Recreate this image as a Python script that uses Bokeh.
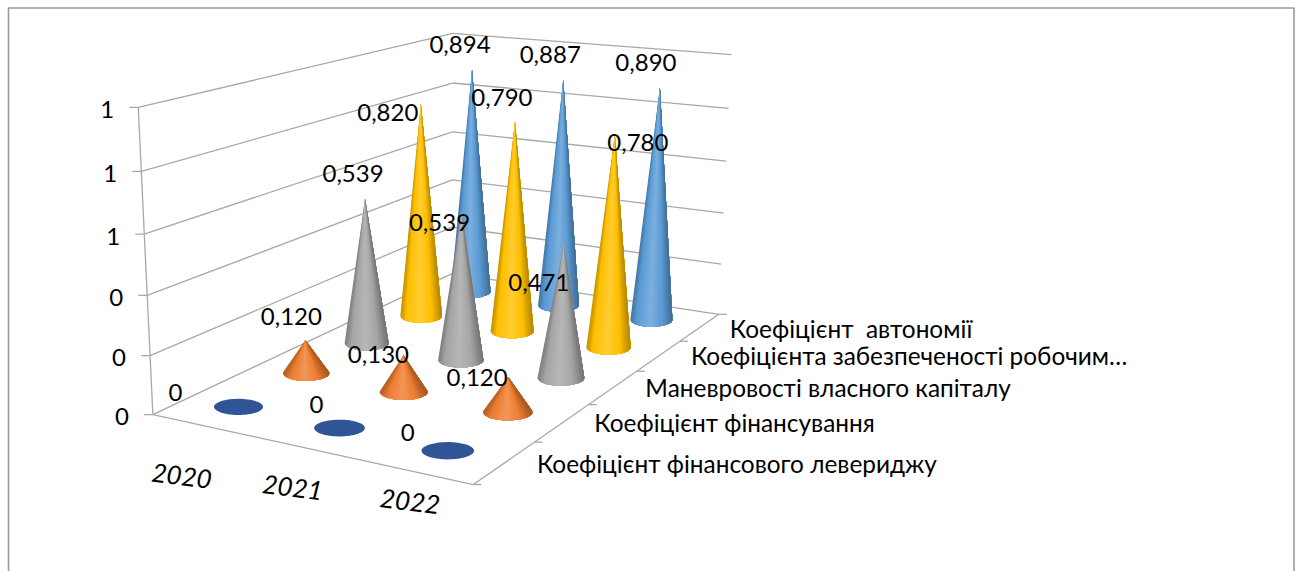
import numpy as np
from bokeh.core.properties import value
from bokeh.embed import file_html
from bokeh.models import ColumnDataSource, Range1d
from bokeh.plotting import figure
from bokeh.resources import INLINE

# ---- chart data -------------------------------------------------------
years = ["2020", "2021", "2022"]
series_names = [
    "Коефіцієнт фінансового левериджу",
    "Коефіцієнт фінансування",
    "Маневровості власного капіталу",
    "Коефіцієнта забезпеченості робочим…",
    "Коефіцієнт\u00a0 автономії",
]
leverage = [0.0, 0.0, 0.0]
financing = [0.120, 0.130, 0.120]
maneuverability = [0.539, 0.539, 0.471]
working_capital = [0.820, 0.790, 0.780]
autonomy = [0.894, 0.887, 0.890]
value_ticks = [0.0, 0.2, 0.4, 0.6, 0.8, 1.0]

# ---- styling and layout -----------------------------------------------
series_rgb = [(47, 85, 151), (237, 125, 49), (165, 165, 165), (255, 192, 0), (91, 155, 213)]
GRID = "#A8A8A8"
FRAME = "#999999"
FONT = "Lato"
W, H = 1301, 571

# pixel offsets of the value labels from each cone tip (rows follow the series)
label_dx = [[-63, -23, -40], [-14, -25, -31], [-12, -22, -25], [-33, -13, 23], [-12, -13, -14]]
label_dy = [[-14, -24, -18], [-24, -1, 0], [-25, 11, 38], [8, -24, 8], [-26, -25, -25]]
# pixel offsets of the year labels from the front edge
year_dx = [-20, -12, -5]
year_dy = [51, 40, 30]
# pixel offsets of the series names from the floor edge
name_dx = [32, 32, 32, 32, 30]
name_dy = [1, 0, 0, 0, 1]

# Perspective camera: box corners (year, series, value) and where they land on screen
box_world = [(0, 0, 0), (3, 0, 0), (3, 5, 0), (0, 5, 0), (0, 0, 1), (0, 5, 1), (3, 5, 1)]
box_screen = [(152, 414), (473, 484), (718, 314), (452, 273), (138, 107), (452, 33), (731, 54)]

# Brightness profile across a cone: position (-1 left edge .. 1 right edge), then factor;
# factors above 1 blend towards white
shade_pos = [-1.0, -0.72, -0.08, 0.5, 1.0]
shade_gain = [0.76, 1.0, 1.2, 1.0, 0.70]


def solve_camera(world, screen):
    rows = []
    for (x, y, z), (u, v) in zip(world, screen):
        rows.append([x, y, z, 1, 0, 0, 0, 0, -u * x, -u * y, -u * z, -u])
        rows.append([0, 0, 0, 0, x, y, z, 1, -v * x, -v * y, -v * z, -v])
    m = np.linalg.svd(np.array(rows, float))[2][-1].reshape(3, 4)
    return m if m[2, 3] > 0 else -m


CAM = solve_camera(box_world, box_screen)


def depth(x, y, z):
    return CAM[2] @ np.array([x, y, z, 1.0])


def project(x, y, z):
    h = CAM @ np.array([x, y, z, 1.0])
    return h[0] / h[2], h[1] / h[2]


def shade(rgb, s):
    """Colour of a cone facet at horizontal position s."""
    g = float(np.interp(s, shade_pos, shade_gain))
    if g <= 1:
        c = [k * g for k in rgb]
    else:
        c = [k + (255 - k) * (g - 1) for k in rgb]
    return "#%02x%02x%02x" % tuple(int(min(255, max(0, round(k)))) for k in c)


def cone_layers(cx, cy, tx, ty, a, b, rgb, n=32):
    """Overlapping shaded layers of a cone's visible side; each layer covers the
    arc from its facet to the far edge, so no background shows between facets."""
    ux, uy = (tx - cx) / a, (ty - cy) / b
    dist = np.hypot(ux, uy)
    if dist <= 1.001:
        phi = np.linspace(0, 2 * np.pi, 60)
        return [list(cx + a * np.cos(phi))], [list(cy + b * np.sin(phi))], ["#%02x%02x%02x" % rgb]
    alpha, spread = np.arctan2(uy, ux), np.arccos(1 / dist)
    phi = np.linspace(alpha + spread, alpha - spread + 2 * np.pi, 3 * n + 1)
    px, py = cx + a * np.cos(phi), cy + b * np.sin(phi)
    if px[0] > px[-1]:
        px, py = px[::-1], py[::-1]
    # facet borders evenly spaced in screen x
    edges = np.linspace(px.min(), px.max(), n + 1)[:-1]
    xs, ys, colors = [], [], []
    for e0, e1 in zip(edges, list(edges[1:]) + [px.max()]):
        keep = px >= e0
        xs.append([tx] + list(px[keep]))
        ys.append([ty] + list(py[keep]))
        colors.append(shade(rgb, float(((e0 + e1) / 2 - cx) / a)))
    return xs, ys, colors


p = figure(width=W, height=H, x_range=Range1d(0, W), y_range=Range1d(H, 0),
           output_backend="svg", toolbar_location=None, min_border=0,
           outline_line_color=None, background_fill_color="white", border_fill_color="white")
p.axis.visible = False
p.grid.visible = False

# Outer chart frame, running off the bottom of the page
p.line([8, 8, 1293.5, 1293.5], [H, 7.5, 7.5, H], line_color=FRAME, line_width=1.6)

# Walls and floor of the box
seg_x0, seg_y0, seg_x1, seg_y1 = [], [], [], []


def add_segment(a, b):
    seg_x0.append(a[0]); seg_y0.append(a[1]); seg_x1.append(b[0]); seg_y1.append(b[1])


for z in value_ticks:
    add_segment(project(0, 0, z), project(0, 5, z))
    add_segment(project(0, 5, z), project(3, 5, z))
    cx, cy = project(0, 0, z)
    add_segment((cx - 9, cy), (cx, cy))
add_segment(project(0, 0, 0), project(0, 0, 1))
add_segment(project(0, 0, 0), project(3, 0, 0))
add_segment(project(3, 0, 0), project(3, 5, 0))
for k in range(6):
    cx, cy = project(3, k, 0)
    add_segment((cx, cy), (cx + 8, cy))
p.segment(seg_x0, seg_y0, seg_x1, seg_y1, line_color=GRID, line_width=1.3)

# Cones, painted from the back row to the front
all_series = [leverage, financing, maneuverability, working_capital, autonomy]
ref_w = depth(0.5, 0.5, 0)
layers = {"xs": [], "ys": [], "color": []}
for row in range(len(all_series) - 1, -1, -1):
    for col, v in enumerate(all_series[row]):
        bx, by = project(col + 0.5, row + 0.5, 0)
        tx, ty = project(col + 0.5, row + 0.5, v)
        width = 49 * ref_w / depth(col + 0.5, row + 0.5, 0)
        xs, ys, colors = cone_layers(bx, by, tx, ty, width / 2, width * 0.165, series_rgb[row])
        layers["xs"] += xs
        layers["ys"] += ys
        layers["color"] += colors
source = ColumnDataSource(layers)
p.patches("xs", "ys", source=source, fill_color="color", line_color=None)

# Value labels beside the tips
lx, ly, ltxt, ldx, ldy = [], [], [], [], []
for row, vals in enumerate(all_series):
    for col, v in enumerate(vals):
        tx, ty = project(col + 0.5, row + 0.5, v)
        lx.append(tx); ly.append(ty)
        ltxt.append("0" if v == 0 else f"{v:.3f}".replace(".", ","))
        ldx.append(label_dx[row][col]); ldy.append(label_dy[row][col])
p.text(lx, ly, text=ltxt, x_offset=ldx, y_offset=ldy, text_font=value(FONT), text_font_size="24px",
       text_color="black", text_align="center", text_baseline="middle")

# Value axis labels: rounded to whole numbers, as the axis formats them
for z in value_ticks:
    cx, cy = project(0, 0, z)
    p.text([cx - 31], [cy + 2], text=[f"{z:.0f}"], text_font=value(FONT), text_font_size="24px",
           text_color="black", text_align="center", text_baseline="middle")

# Year labels under the front edge
for i, yr in enumerate(years):
    cx, cy = project(i + 0.5, 0, 0)
    p.text([cx], [cy], text=[yr], x_offset=[year_dx[i]], y_offset=[year_dy[i]], angle=-7, angle_units="deg",
           text_font=value(FONT), text_font_size="26px", text_font_style="italic",
           text_color="black", text_align="center", text_baseline="middle")

# Series names to the right of the floor
for i, name in enumerate(series_names):
    cx, cy = project(3, i + 0.5, 0)
    p.text([cx], [cy], text=[name], x_offset=[name_dx[i]], y_offset=[name_dy[i]], text_font=value(FONT),
           text_font_size="24.4px", text_color="black", text_align="left", text_baseline="middle")

open("out.html", "w").write(file_html(p, INLINE))
